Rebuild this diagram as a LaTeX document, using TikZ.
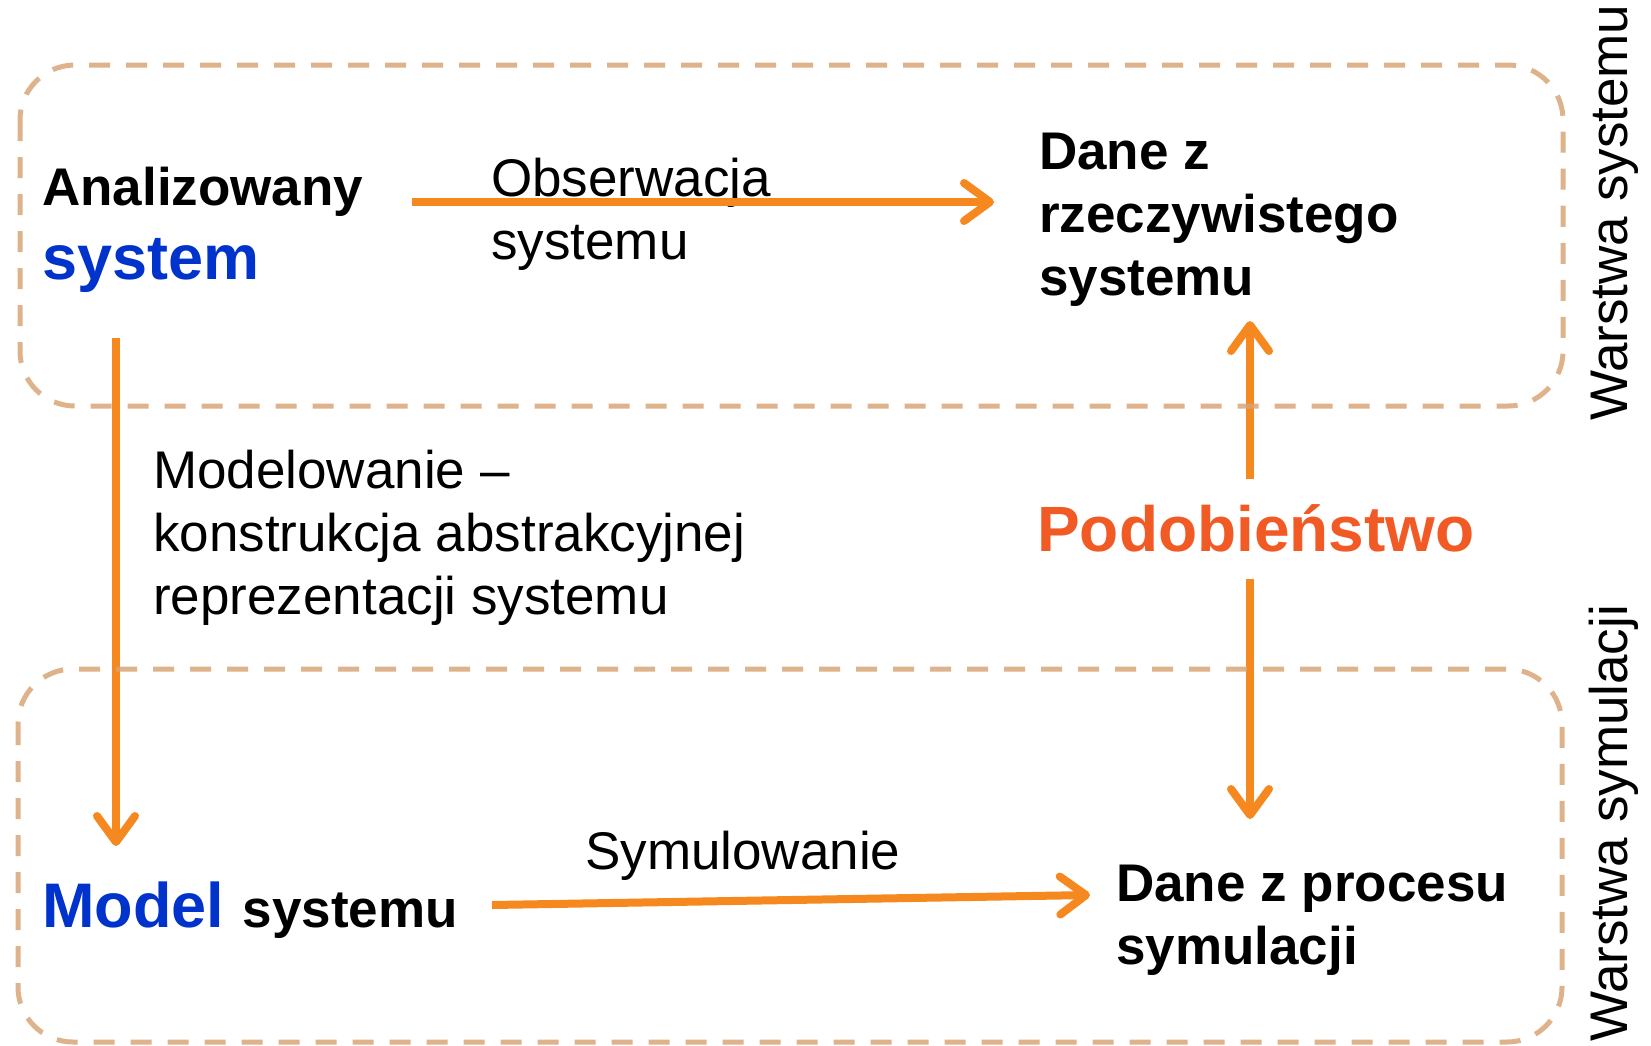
\documentclass[tikz,border=0pt]{standalone}
\usepackage{fontspec}
\setmainfont{Liberation Sans}
\usetikzlibrary{arrows.meta,calc}
\definecolor{arrorange}{RGB}{245,136,30}
\definecolor{simred}{RGB}{241,90,36}
\definecolor{sysblue}{RGB}{0,51,204}
\definecolor{layertan}{RGB}{216,164,117}
\begin{document}
\begin{tikzpicture}[x=1pt,y=-1pt,
  lbl/.style={inner sep=0pt, anchor=base west, align=left, font=\fontsize{53}{63}\selectfont},
  boldlbl/.style={lbl, font=\fontsize{53}{63}\selectfont\bfseries},
  arr/.style={draw=arrorange, line width=8pt, -{Straight Barb[length=26pt,width=38pt,round]}},
  layer/.style={draw=layertan, draw opacity=0.85, line width=5pt, dash pattern=on 21pt off 16pt, rounded corners=55pt},
]
\useasboundingbox (0,0) rectangle (1651,1045);

% base anchor of a multi-line node = baseline of its last line
\node[boldlbl] (ana) at (42,279) {Analizowany\\[11pt]{\fontsize{63}{74}\selectfont\color{sysblue}system}};
\node[boldlbl] (danez) at (1039,295) {Dane z\\rzeczywistego\\systemu};
\node[boldlbl, font=\fontsize{64}{75}\selectfont\bfseries, text=simred] (podob) at (1037,551) {Podobieństwo};
\node[boldlbl] (model) at (42,927) {{\fontsize{63}{74}\selectfont\color{sysblue}Model}\hspace{4pt} systemu};
\node[boldlbl] (danes) at (1116,964) {Dane z procesu\\symulacji};

\node[lbl] (obsl) at (491,259) {Obserwacja\\systemu};
\node[lbl] (modl) at (153,614) {Modelowanie –\\konstrukcja abstrakcyjnej\\reprezentacji systemu};
\node[lbl] (syml) at (585,869) {Symulowanie};

\node[lbl, rotate=90] (w1) at (1627,421) {Warstwa systemu};
\node[lbl, rotate=90] (w2) at (1627,1042) {Warstwa symulacji};

\draw[arr] ($(ana.base west)+(370,-77)$) -- ($(danez.base west)+(-45,-93)$);
\draw[arr] ($(ana.base west)+(74,59)$) -- ($(model.base west)+(74,-81)$);
\draw[arr] ($(podob.base west)+(213,-72)$) -- ($(danez.base west)+(211,26)$);
\draw[arr] ($(podob.base west)+(213,28)$) -- ($(danes.base west)+(134,-145)$);
\draw[arr] ($(model.base west)+(450,-22)$) -- ($(danes.base west)+(-26,-69)$);

\draw[layer] (20,65) rectangle (1563,406);
\draw[layer] (18,669) rectangle (1562,1042);
\end{tikzpicture}
\end{document}
